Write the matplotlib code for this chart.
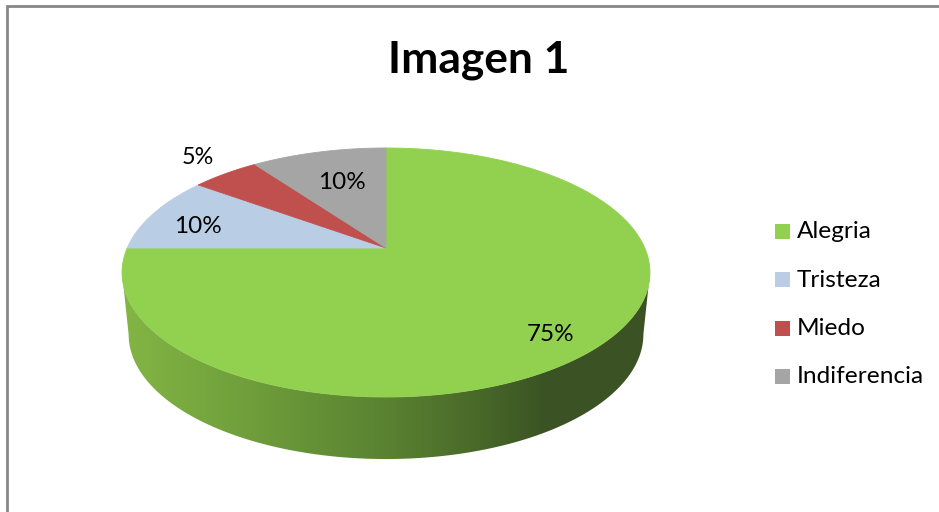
import numpy as np
import matplotlib
matplotlib.use('Agg')
import matplotlib.pyplot as plt
from matplotlib.patches import Polygon, Rectangle
from matplotlib.colors import to_rgb

# ---- data ----
categories = ['Alegria', 'Tristeza', 'Miedo', 'Indiferencia']
values = [75, 10, 5, 10]
pct_labels = ['75%', '10%', '5%', '10%']
colors = ['#92d050', '#b9cde5', '#c0504d', '#a5a5a5']
title = 'Imagen 1'

FONT = ['Lato', 'DejaVu Sans']
W, H = 939, 512
fig = plt.figure(figsize=(W / 100, H / 100), dpi=100)
ax = fig.add_axes([0, 0, 1, 1])
ax.set_xlim(0, W)
ax.set_ylim(H, 0)
ax.axis('off')
renderer = fig.canvas.get_renderer()

# chart border (left and top visible)
ax.plot([7, 7, W + 5], [H + 5, 6, 6], color='#878787', lw=2, solid_joinstyle='miter')

# ---- 3D pie geometry (perspective projection of a circle) ----
cx, cy = 386, 248
a, b, c = 258.8, 119.7, 0.1968
depth, shrink = 62, 0.975


def proj(theta_deg, r=1.0, bottom=False):
    t = np.radians(theta_deg)
    u, v = r * np.cos(t), r * np.sin(t)
    d = 1 + c * v
    X = cx + a * u / d
    Y = cy - b * v / d
    if bottom:
        X = cx + (X - cx) * shrink
        Y = Y + depth
    return X, Y


total = float(sum(values))
start = 90.0
bounds = []
cum = 0.0
for v in values:
    t0 = start - cum / total * 360
    t1 = start - (cum + v) / total * 360
    bounds.append((t0, t1))
    cum += v

# side wall (front half only)
e = np.degrees(np.arcsin(c))
th = np.linspace(180 + e, 360 - e, 300)
tx, ty = proj(th)
bx, by = proj(th[::-1], bottom=True)
side_xy = np.column_stack([np.concatenate([tx, bx]), np.concatenate([ty, by])])
side_poly = Polygon(side_xy, closed=True, facecolor='none', edgecolor='none')
ax.add_patch(side_poly)

stops_x = [118, 250, 386, 480, 545, 660]
stops_c = ['#84b645', '#6f9e3b', '#5a8231', '#486829', '#3b5324', '#3c5224']
xs = np.arange(110, 670)
rgb = np.array([to_rgb(s) for s in stops_c])
grad = np.stack([np.interp(xs, stops_x, rgb[:, k]) for k in range(3)], axis=-1)
img = np.repeat(grad[None, :, :], 2, axis=0)
im = ax.imshow(img, extent=[110, 670, 480, 240], aspect='auto', zorder=1,
               interpolation='bilinear')
im.set_clip_path(side_poly)

# top slices
for (t0, t1), col in zip(bounds, colors):
    tt = np.linspace(t0, t1, 200)
    px, py = proj(tt)
    xy = np.column_stack([np.concatenate([[cx], px]), np.concatenate([[cy], py])])
    ax.add_patch(Polygon(xy, closed=True, facecolor=col, edgecolor=col,
                         lw=0.6, zorder=2))

# data labels
label_r = [0.8, 0.8, 1.2, 0.62]
label_dy = [9, 5, -5, -4]
for (t0, t1), lab, r, dy in zip(bounds, pct_labels, label_r, label_dy):
    mx, my = proj((t0 + t1) / 2, r)
    t = ax.text(mx, my + dy + 8, lab, ha='center', va='baseline',
                family=FONT, fontsize=10, color='black', zorder=5)
    w = t.get_window_extent(renderer).width
    target = 44 if lab != '5%' else 30
    t.set_fontsize(10 * target / w * 1.08)

# title
tt = ax.text(479, 72.7, title, ha='center', va='baseline', family=FONT,
             fontweight='bold', fontsize=10, color='black')
w = tt.get_window_extent(renderer).width
tt.set_fontsize(10 * 181 / w)

# legend
leg_y0, leg_dy = 231.5, 48.3
leg_texts = []
for i, (name, col) in enumerate(zip(categories, colors)):
    yc = leg_y0 + i * leg_dy
    ax.add_patch(Rectangle((775, yc - 7.5), 15, 15, facecolor=col, edgecolor='none'))
    t = ax.text(797, yc + 7, name, ha='left', va='baseline', family=FONT,
                fontsize=10, color='black')
    leg_texts.append(t)
    if name == 'Indiferencia':
        w = t.get_window_extent(renderer).width
        legfs = 10 * 127 / w
for t in leg_texts:
    t.set_fontsize(legfs)

fig.savefig('out.png', dpi=100, facecolor='white')
